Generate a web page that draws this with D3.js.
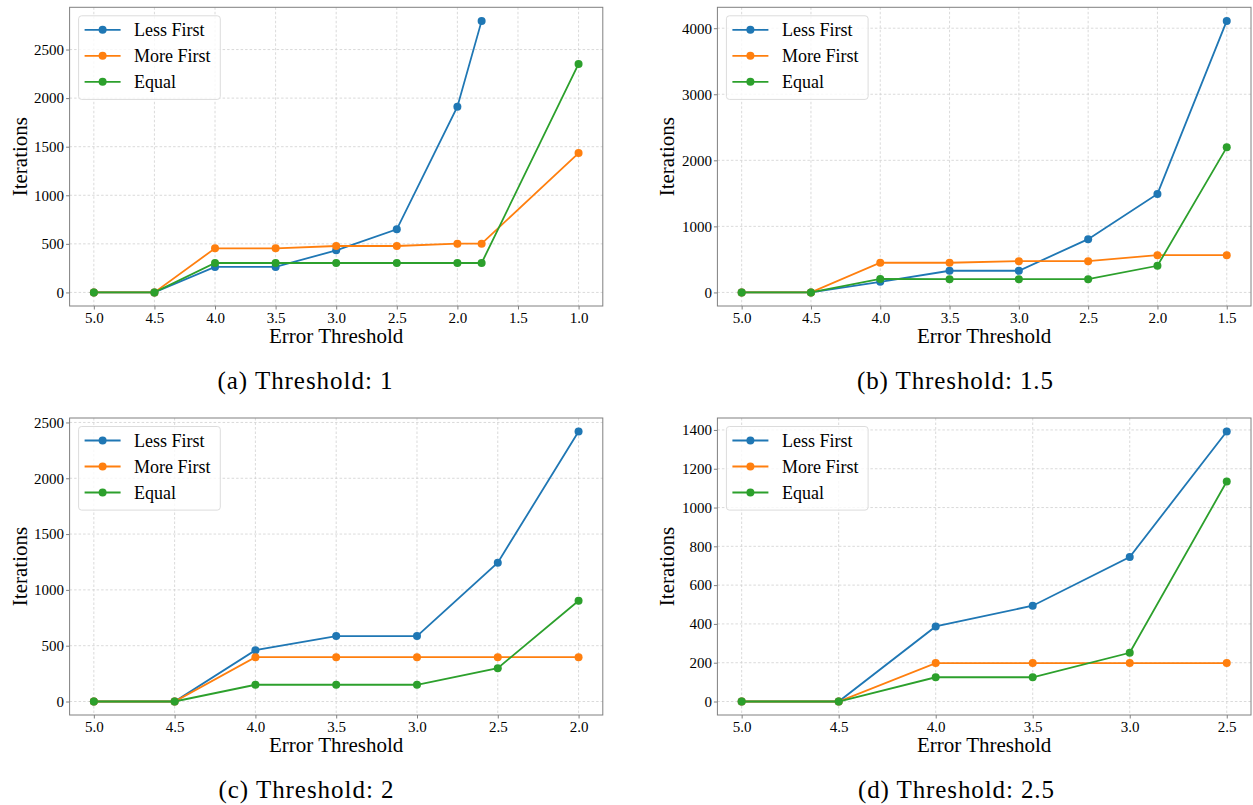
<!DOCTYPE html>
<html>
<head>
<meta charset="utf-8">
<script src="https://cdn.jsdelivr.net/npm/d3@7"></script>
<style>
  body { margin: 0; background: #fff; }
  svg text { font-family: "Liberation Serif", "DejaVu Serif", serif; fill: #000; }
</style>
</head>
<body>
<div id="chart"></div>
<script>
// series shared by all four panels
var seriesNames = ["Less First", "More First", "Equal"];
var seriesColors = ["#1f77b4", "#ff7f0e", "#2ca02c"];

// (a) Threshold: 1
var xA = [5.0, 4.5, 4.0, 3.5, 3.0, 2.5, 2.0, 1.8, 1.0];
var lessA = [0, 0, 262, 262, 433, 649, 1912, 2795, null];
var moreA = [0, 0, 454, 454, 478, 478, 502, 502, 1434];
var equalA = [0, 0, 303, 303, 303, 303, 303, 303, 2352];
var xTicksA = [5.0, 4.5, 4.0, 3.5, 3.0, 2.5, 2.0, 1.5, 1.0];
var yTicksA = [0, 500, 1000, 1500, 2000, 2500];

// (b) Threshold: 1.5
var xB = [5.0, 4.5, 4.0, 3.5, 3.0, 2.5, 2.0, 1.5];
var lessB = [0, 0, 161, 328, 328, 806, 1491, 4111];
var moreB = [0, 0, 449, 449, 473, 473, 564, 564];
var equalB = [0, 0, 204, 201, 201, 201, 403, 2196];
var xTicksB = [5.0, 4.5, 4.0, 3.5, 3.0, 2.5, 2.0, 1.5];
var yTicksB = [0, 1000, 2000, 3000, 4000];

// (c) Threshold: 2
var xC = [5.0, 4.5, 4.0, 3.5, 3.0, 2.5, 2.0];
var lessC = [0, 0, 460, 586, 586, 1244, 2419];
var moreC = [0, 0, 397, 397, 397, 397, 397];
var equalC = [0, 0, 150, 150, 150, 299, 903];
var xTicksC = [5.0, 4.5, 4.0, 3.5, 3.0, 2.5, 2.0];
var yTicksC = [0, 500, 1000, 1500, 2000, 2500];

// (d) Threshold: 2.5
var xD = [5.0, 4.5, 4.0, 3.5, 3.0, 2.5];
var lessD = [0, 0, 387, 494, 745, 1392];
var moreD = [0, 0, 198, 198, 198, 198];
var equalD = [0, 0, 125, 125, 251, 1134];
var xTicksD = [5.0, 4.5, 4.0, 3.5, 3.0, 2.5];
var yTicksD = [0, 200, 400, 600, 800, 1000, 1200, 1400];

var captions = ["(a) Threshold: 1", "(b) Threshold: 1.5", "(c) Threshold: 2", "(d) Threshold: 2.5"];

// where each axes box sits on the page
var layout = [
  {left: 69.6, right: 602.8, top: 7.3, bottom: 306, capX: 305, capY: 389, capW: 175},
  {left: 717.4, right: 1251, top: 7.3, bottom: 306, capX: 955, capY: 389, capW: 196},
  {left: 69.6, right: 602.8, top: 418, bottom: 715, capX: 306, capY: 798, capW: 175},
  {left: 717.4, right: 1251, top: 418, bottom: 715, capX: 956, capY: 798, capW: 196}
];

var panels = [
  {x: xA, ys: [lessA, moreA, equalA], xTicks: xTicksA, yTicks: yTicksA},
  {x: xB, ys: [lessB, moreB, equalB], xTicks: xTicksB, yTicks: yTicksB},
  {x: xC, ys: [lessC, moreC, equalC], xTicks: xTicksC, yTicks: yTicksC},
  {x: xD, ys: [lessD, moreD, equalD], xTicks: xTicksD, yTicks: yTicksD}
];

var serif = '"Liberation Serif", "DejaVu Serif", serif';

var svg = d3.select("#chart")
  .append("svg")
    .attr("width", 1253)
    .attr("height", 805);

function draw_panel(p, box, caption) {
  var g = svg.append("g");

  // matplotlib style 5% margins
  var xmin = d3.min(p.x), xmax = d3.max(p.x);
  var xpad = (xmax - xmin) * 0.05;
  var x = d3.scaleLinear()
    .domain([xmax + xpad, xmin - xpad])
    .range([box.left, box.right]);

  var all = [].concat.apply([], p.ys).filter(function(v){ return v != null; });
  var ymin = d3.min(all), ymax = d3.max(all);
  var ypad = (ymax - ymin) * 0.05;
  var y = d3.scaleLinear()
    .domain([ymin - ypad, ymax + ypad])
    .range([box.bottom, box.top]);

  // grid
  g.selectAll(".vgrid")
    .data(p.xTicks)
    .enter()
    .append("line")
      .attr("x1", function(d){ return x(d); })
      .attr("x2", function(d){ return x(d); })
      .attr("y1", box.top)
      .attr("y2", box.bottom)
      .attr("stroke", "#d0d0d0")
      .attr("stroke-width", 0.8)
      .attr("stroke-dasharray", "2.5,2");

  g.selectAll(".hgrid")
    .data(p.yTicks)
    .enter()
    .append("line")
      .attr("x1", box.left)
      .attr("x2", box.right)
      .attr("y1", function(d){ return y(d); })
      .attr("y2", function(d){ return y(d); })
      .attr("stroke", "#d0d0d0")
      .attr("stroke-width", 0.8)
      .attr("stroke-dasharray", "2.5,2");

  // axes
  var xAxis = g.append("g")
    .attr("transform", "translate(0," + box.bottom + ")")
    .call(d3.axisBottom(x).tickValues(p.xTicks).tickFormat(d3.format(".1f"))
      .tickSize(3.5).tickSizeOuter(0).tickPadding(2.5));
  var yAxis = g.append("g")
    .attr("transform", "translate(" + box.left + ",0)")
    .call(d3.axisLeft(y).tickValues(p.yTicks).tickFormat(d3.format("d"))
      .tickSize(3.5).tickSizeOuter(0).tickPadding(2));

  [xAxis, yAxis].forEach(function(a){
    a.attr("font-family", null).attr("font-size", null);
    a.select(".domain").remove();
    a.selectAll(".tick line").attr("stroke", "#808080");
    a.selectAll(".tick text")
      .style("font-family", serif)
      .style("font-size", "15px")
      .attr("fill", "#000");
  });

  // frame
  g.append("rect")
    .attr("x", box.left)
    .attr("y", box.top)
    .attr("width", box.right - box.left)
    .attr("height", box.bottom - box.top)
    .attr("fill", "none")
    .attr("stroke", "#808080")
    .attr("stroke-width", 1);

  // axis titles
  g.append("text")
    .attr("x", (box.left + box.right) / 2)
    .attr("y", box.bottom + 37)
    .attr("text-anchor", "middle")
    .style("font-size", "21px")
    .text("Error Threshold");

  g.append("text")
    .attr("transform", "translate(" + (box.left - 43) + "," + ((box.top + box.bottom) / 2) + ") rotate(-90)")
    .attr("text-anchor", "middle")
    .style("font-size", "21px")
    .text("Iterations");

  // lines + markers, one series after another
  p.ys.forEach(function(vals, k){
    var pts = p.x.map(function(xv, i){ return {x: xv, y: vals[i]}; })
      .filter(function(d){ return d.y != null; });

    var line = d3.line()
      .x(function(d){ return x(d.x); })
      .y(function(d){ return y(d.y); });

    g.append("path")
      .datum(pts)
      .attr("d", line)
      .attr("fill", "none")
      .attr("stroke", seriesColors[k])
      .attr("stroke-width", 1.8);

    g.selectAll(".dot" + k)
      .data(pts)
      .enter()
      .append("circle")
        .attr("cx", function(d){ return x(d.x); })
        .attr("cy", function(d){ return y(d.y); })
        .attr("r", 4)
        .attr("fill", seriesColors[k]);
  });

  // legend
  var lx = box.left + 9, ly = box.top + 8.5;
  var leg = g.append("g").attr("transform", "translate(" + lx + "," + ly + ")");
  leg.append("rect")
    .attr("width", 141.7)
    .attr("height", 83.6)
    .attr("rx", 3)
    .attr("fill", "#fff")
    .attr("fill-opacity", 0.8)
    .attr("stroke", "#dcdcdc")
    .attr("stroke-width", 1);

  seriesNames.forEach(function(name, k){
    var ry = 14 + k * 26;
    leg.append("line")
      .attr("x1", 6).attr("x2", 42)
      .attr("y1", ry).attr("y2", ry)
      .attr("stroke", seriesColors[k])
      .attr("stroke-width", 1.8);
    leg.append("circle")
      .attr("cx", 24).attr("cy", ry)
      .attr("r", 4)
      .attr("fill", seriesColors[k]);
    leg.append("text")
      .attr("x", 55.5)
      .attr("y", ry + 6)
      .style("font-size", "18px")
      .text(name);
  });

  // sub caption
  svg.append("text")
    .attr("x", box.capX)
    .attr("y", box.capY)
    .attr("text-anchor", "middle")
    .style("font-size", "25px")
    .attr("textLength", box.capW)
    .attr("lengthAdjust", "spacing")
    .text(caption);
}

panels.forEach(function(p, i){
  draw_panel(p, layout[i], captions[i]);
});
</script>
</body>
</html>
